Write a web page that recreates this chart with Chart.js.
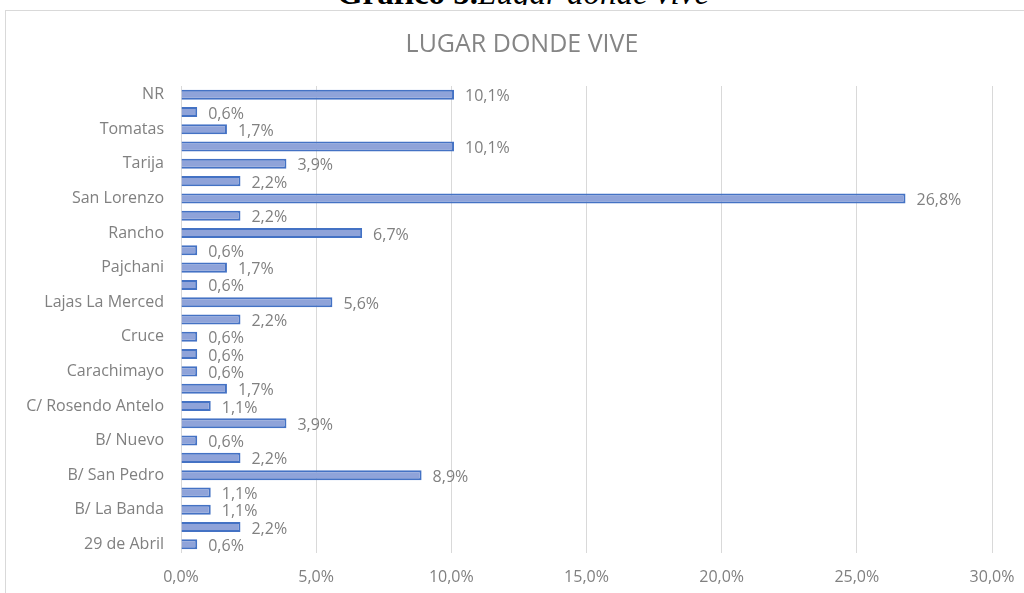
<!DOCTYPE html>
<html>
<head>
<meta charset="utf-8">
<script src="https://cdn.jsdelivr.net/npm/chart.js@4.4.0/dist/chart.umd.min.js"></script>
<style>
    html, body { margin: 0; padding: 0; background: #fff; overflow: hidden; }
    body { width: 1024px; height: 593px; position: relative; }
    #corte { position: absolute; left: 0; top: 0; width: 1024px; height: 5px; overflow: hidden; }
    #encabezado {
        position: absolute; left: 11px; width: 1024px; top: -26px; line-height: 38px;
        text-align: center; font-family: "Liberation Serif", serif; font-size: 33px; color: #000;
    }
    #marco {
        position: absolute; left: 5px; top: 10px; width: 1040px; height: 600px;
        border: 1px solid #d9d9d9; box-sizing: border-box; background: #fff;
    }
    #grafico { position: absolute; left: 0; top: 0; }
</style>
</head>
<body>
<div id="corte"><div id="encabezado"><b>Gráfico 5.</b><i>Lugar donde vive</i></div></div>
<div id="marco"></div>
<canvas id="grafico" width="1024" height="593"></canvas>
<script>
// categorias de arriba hacia abajo (las que no se leen en el grafico van vacias)
const lugares = ['NR', '', 'Tomatas', '', 'Tarija', '', 'San Lorenzo', '', 'Rancho', '',
    'Pajchani', '', 'Lajas La Merced', '', 'Cruce', '', 'Carachimayo', '',
    'C/ Rosendo Antelo', '', 'B/ Nuevo', '', 'B/ San Pedro', '', 'B/ La Banda', '', '29 de Abril'];
const porcentajes = [10.1, 0.6, 1.7, 10.1, 3.9, 2.2, 26.8, 2.2, 6.7, 0.6,
    1.7, 0.6, 5.6, 2.2, 0.6, 0.6, 0.6, 1.7,
    1.1, 3.9, 0.6, 2.2, 8.9, 1.1, 1.1, 2.2, 0.6];
const ejeMin = 0;
const ejeMax = 30;
const ejePaso = 5;
const titulo = 'LUGAR DONDE VIVE';

const fuente = '"Open Sans", "Noto Sans", sans-serif';
const gris = '#808080';

function formatoPct(v) {
    return v.toFixed(1).replace('.', ',') + '%';
}

// el titulo va centrado en el marco (que sigue mas alla del borde derecho)
const tituloMarco = {
    id: 'tituloMarco',
    afterDraw(chart) {
        const ctx = chart.ctx;
        ctx.save();
        ctx.font = '25px ' + fuente;
        ctx.fillStyle = '#858585';
        ctx.textAlign = 'center';
        ctx.textBaseline = 'middle';
        ctx.fillText(titulo, 522, 45);
        ctx.restore();
    }
};

const etiquetasBarras = {
    id: 'etiquetasBarras',
    afterDatasetsDraw(chart) {
        const ctx = chart.ctx;
        const meta = chart.getDatasetMeta(0);
        ctx.save();
        ctx.font = '16px ' + fuente;
        ctx.fillStyle = gris;
        ctx.textAlign = 'left';
        ctx.textBaseline = 'middle';
        meta.data.forEach((bar, i) => {
            ctx.fillText(formatoPct(porcentajes[i]), bar.x + 11, bar.y + 2);
        });
        ctx.restore();
    }
};

const ctx = document.getElementById('grafico').getContext('2d');
new Chart(ctx, {
    type: 'bar',
    data: {
        labels: lugares,
        datasets: [{
            data: porcentajes,
            backgroundColor: '#8fa3d9',
            borderColor: '#4472c4',
            borderWidth: 2,
            categoryPercentage: 1,
            barPercentage: 0.58
        }]
    },
    options: {
        indexAxis: 'y',
        responsive: false,
        animation: false,
        layout: { padding: { top: 86, left: 10, right: 32, bottom: 0 } },
        plugins: {
            legend: { display: false },
            tooltip: { enabled: false },
            title: { display: false }
        },
        scales: {
            x: {
                min: ejeMin,
                max: ejeMax,
                ticks: {
                    stepSize: ejePaso,
                    color: gris,
                    font: { family: fuente, size: 16 },
                    padding: 15,
                    callback: v => formatoPct(v)
                },
                grid: { color: '#d9d9d9', drawTicks: false },
                border: { display: false },
                afterFit: s => { s.height = 40; s.paddingRight = 0; s.paddingLeft = 0; }
            },
            y: {
                ticks: {
                    autoSkip: false,
                    color: gris,
                    font: { family: fuente, size: 16 },
                    padding: 17
                },
                grid: { display: false, drawTicks: false },
                border: { display: false },
                afterFit: s => { s.width = 171; s.paddingTop = 0; s.paddingBottom = 0; }
            }
        }
    },
    plugins: [etiquetasBarras, tituloMarco]
});
</script>
</body>
</html>
